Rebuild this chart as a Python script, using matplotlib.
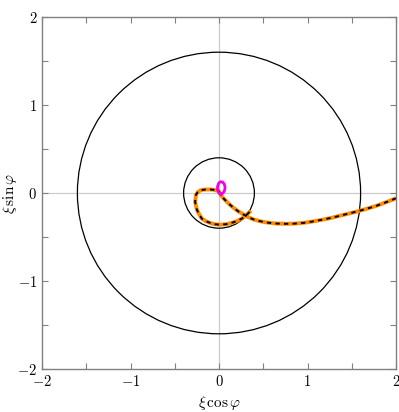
import numpy as np
import matplotlib
matplotlib.use('Agg')
import matplotlib.pyplot as plt

plt.rcParams['font.family'] = 'serif'
plt.rcParams['font.serif'] = ['cmr10', 'DejaVu Serif']
plt.rcParams['mathtext.fontset'] = 'cm'
plt.rcParams['axes.formatter.use_mathtext'] = True

# radii of the two reference circles
radii = [1.6, 0.4]

# trajectory: in from the right, then a loop round the origin
path_x = [2.0, 1.9, 1.78, 1.65, 1.52, 1.4, 1.28, 1.16, 1.05, 0.95, 0.85, 0.75,
          0.65, 0.55, 0.46, 0.39, 0.33, 0.27, 0.22, 0.16, 0.105, 0.05, 0.01,
          0.0, -0.05, -0.10, -0.14, -0.18, -0.21, -0.24, -0.26, -0.27, -0.26,
          -0.25, -0.225, -0.195, -0.15, -0.10, -0.05, 0.01, 0.08, 0.14, 0.20,
          0.26, 0.31, 0.36]
path_y = [-0.06, -0.10, -0.145, -0.185, -0.22, -0.25, -0.28, -0.305, -0.325,
          -0.34, -0.348, -0.35, -0.347, -0.337, -0.32, -0.3, -0.275, -0.24,
          -0.21, -0.165, -0.117, -0.06, -0.01,
          0.02, 0.035, 0.04, 0.04, 0.037, 0.03, 0.01, -0.02, -0.10, -0.145,
          -0.19, -0.24, -0.29, -0.32, -0.34, -0.355, -0.36, -0.355, -0.34,
          -0.32, -0.29, -0.25, -0.20]

# small magenta loop near the origin
loop_x = [0.02, 0.05, 0.065, 0.068, 0.06, 0.04, 0.015, -0.006, -0.017, -0.016,
          -0.004, 0.02]
loop_y = [-0.015, 0.005, 0.035, 0.07, 0.1, 0.125, 0.128, 0.108, 0.07, 0.032,
          0.005, -0.015]

ticks = [-2, -1, 0, 1, 2]
minor = [-1.5, -0.5, 0.5, 1.5]

fig = plt.figure(figsize=(3.99, 4.12), dpi=100)
ax = fig.add_axes([42 / 399, 43 / 412, 354 / 399, 352 / 412])

ax.axhline(0, color='#cccccc', lw=0.9, zorder=0)
ax.axvline(0, color='#cccccc', lw=0.9, zorder=0)

for r in radii:
    ax.add_patch(plt.Circle((0, 0), r, fill=False, color='black', lw=0.9))

ax.plot(path_x, path_y, color='#ff8c00', lw=2.8, solid_capstyle='butt')
ax.plot(path_x, path_y, color='black', lw=1.4, dashes=(2.2, 2.2))
ax.plot(loop_x, loop_y, color='#ee00ee', lw=2.0)

ax.set_xlim(-2, 2)
ax.set_ylim(-2, 2)
ax.set_xticks(ticks)
ax.set_yticks(ticks)
ax.set_xticks(minor, minor=True)
ax.set_yticks(minor, minor=True)
ax.tick_params(which='both', direction='in', top=True, right=True,
               length=4, width=0.8, color='#808080', labelsize=10.5)

for s in ax.spines.values():
    s.set_color('#808080')
    s.set_linewidth(1.0)

ax.set_xlabel(r'$\xi\,\cos\varphi$', fontsize=11, va='center')
ax.set_ylabel(r'$\xi\,\sin\varphi$', fontsize=11, va='center')
ax.xaxis.set_label_coords(0.5, -0.097)
ax.yaxis.set_label_coords(-0.09, 0.5)

fig.savefig('out.png', dpi=100)
